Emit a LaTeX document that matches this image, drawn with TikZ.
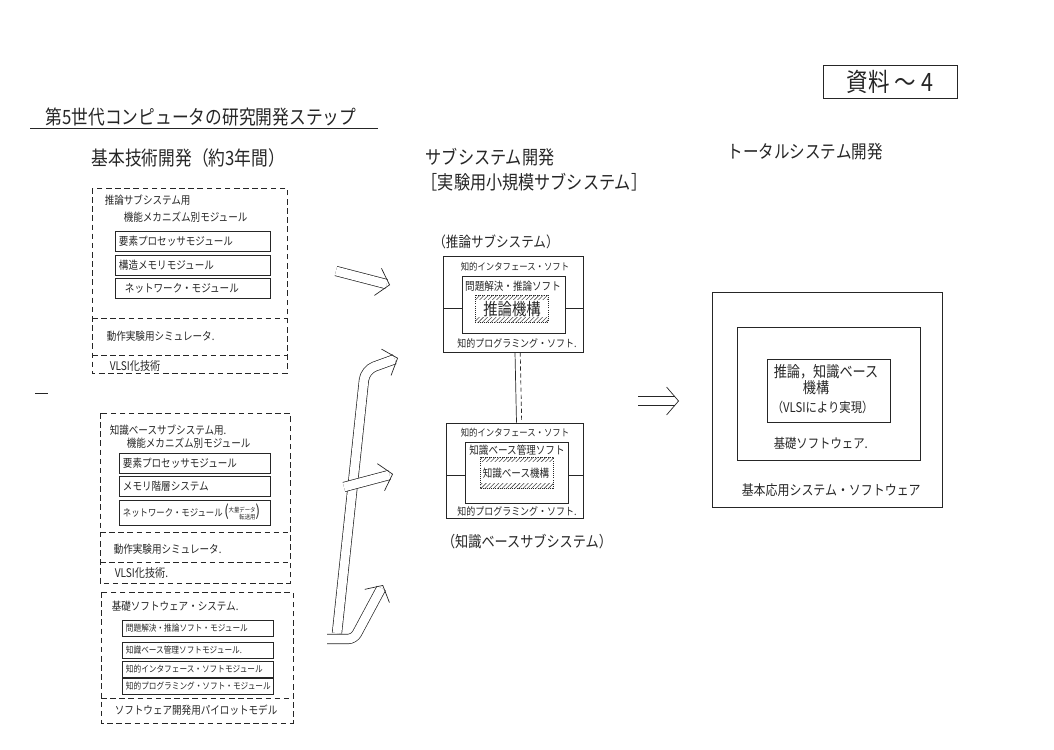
\documentclass[tikz,border=0pt]{standalone}
\usepackage{fontspec}
\setmainfont{Noto Sans CJK JP}[FakeStretch=0.85]
\usetikzlibrary{arrows.meta,patterns,calc}
\newcommand{\fsz}[1]{\fontsize{#1}{#1}\selectfont}

\begin{document}
\begin{tikzpicture}[x=0.025cm, y=-0.025cm, line width=0.5pt, color=black!85,
  every node/.style={inner sep=1pt},
  dashbox/.style={dash pattern=on 4pt off 2.5pt},
  modbox/.style={draw, align=left, minimum height=0.5cm, inner xsep=0.1cm, inner ysep=0pt},
  dbl/.style={double, double distance=0.22cm, shorten >=0.09cm},
  chev/.style={draw=white, -{Straight Barb[length=0.3cm, width=0.7cm, color=black!85]}},
  hatch/.style={pattern=north east lines, pattern color=black!70}]
\useasboundingbox (0,0) rectangle (1054,750);
\node[anchor=west, font=\fsz{14pt}] (title) at (44,117) {第5世代コンピュータの研究開発ステップ};
\draw (30,128) -- (378,128);
\node[anchor=west, font=\fsz{14pt}] (basic) at (90,158) {基本技術開発（約3年間）};
\draw (35,393) -- (48,393);
%inference modules
\draw[dashbox] (92,188) rectangle (287,373);
\draw[dashbox] (92,318) -- (287,318);
\draw[dashbox] (92,355) -- (287,355);
\node[anchor=west, font=\fsz{8pt}] (inf1) at (103,200) {推論サブシステム用};
\node[anchor=west, font=\fsz{8pt}] (mech1) at (122,217) {機能メカニズム別モジュール};
\node[modbox, text width=3.675cm, font=\fsz{8pt}] (ep1) at (192.5,241) {要素プロセッサモジュール};
\node[modbox, text width=3.675cm, font=\fsz{8pt}] (sm1) at (192.5,265) {構造メモリモジュール};
\node[modbox, text width=3.675cm, font=\fsz{8pt}] (nw1) at (192.5,288) {\hspace{0.15cm}ネットワーク・モジュール};
\node[anchor=west, font=\fsz{8pt}] (sim1) at (105,336) {動作実験用シミュレータ.};
\node[anchor=west, font=\fsz{8.5pt}] (vlsi1) at (108,366) {VLSI化技術};
%knowledge base modules
\draw[dashbox] (100,413) rectangle (290,583);
\draw[dashbox] (100,532) -- (290,532);
\draw[dashbox] (100,562) -- (290,562);
\node[anchor=west, font=\fsz{8pt}] (kb2) at (108,430) {知識ベースサブシステム用.};
\node[anchor=west, font=\fsz{8pt}] (mech2) at (125,443) {機能メカニズム別モジュール};
\node[modbox, text width=3.575cm, font=\fsz{8pt}] (ep2) at (194.5,463) {要素プロセッサモジュール};
\node[modbox, text width=3.575cm, font=\fsz{8pt}] (mh2) at (194.5,486.5) {メモリ階層システム};
\node[modbox, text width=3.575cm, minimum height=0.625cm, font=\fsz{7pt}] (nw2) at (194.5,512.5)
  {ネットワーク・モジュール\,{\fsz{11pt}(}{\fsz{4.5pt}\begin{tabular}{@{}r@{}}大量データ\\転送用\end{tabular}}{\fsz{11pt})}};
\node[anchor=west, font=\fsz{8pt}] (sim2) at (112,549) {動作実験用シミュレータ.};
\node[anchor=west, font=\fsz{8.5pt}] (vlsi2) at (113,573) {VLSI化技術.};
%basic software
\draw[dashbox] (101,592) rectangle (293,723);
\draw[dashbox] (101,698) -- (293,698);
\node[anchor=west, font=\fsz{8pt}] (bss3) at (110,606) {基礎ソフトウェア・システム.};
\node[modbox, text width=3.575cm, minimum height=0.4cm, font=\fsz{6.4pt}] (ps3) at (197.5,628.5) {問題解決・推論ソフト・モジュール};
\node[modbox, text width=3.575cm, minimum height=0.4cm, font=\fsz{6.4pt}] (km3) at (197.5,650) {知識ベース管理ソフトモジュール.};
\node[modbox, text width=3.575cm, minimum height=0.4cm, font=\fsz{6.4pt}] (ii3) at (197.5,669) {知的インタフェース・ソフトモジュール};
\node[modbox, text width=3.575cm, minimum height=0.4cm, font=\fsz{6.4pt}] (ip3) at (197.5,686.5) {知的プログラミング・ソフト・モジュール};
\node[anchor=west, font=\fsz{8pt}] (pilot3) at (113,710) {ソフトウェア開発用パイロットモデル};
%subsystems
\node[anchor=west, font=\fsz{13.5pt}] (subdev) at (424,157) {サブシステム開発};
\node[anchor=west, font=\fsz{13.5pt}] (subexp) at (420,182) {［実験用小規模サブシステム］};
\node[font=\fsz{10.5pt}] (infcap) at (496,242) {（推論サブシステム）};
\node[draw, minimum width=3.5cm, minimum height=2.4cm] (infbox) at (513,304) {};
\draw (462,276) rectangle (565,333);
\fill[hatch] (475,295) rectangle (548,299.5);
\fill[hatch] (475,317.5) rectangle (548,322);
\draw[densely dotted] (475,295) rectangle (548,322);
\draw (443,308) -- (462,308);
\draw (565,308) -- (583,308);
\node[font=\fsz{7pt}] (ii) at (515,267) {知的インタフェース・ソフト};
\node[font=\fsz{8pt}] (psr) at (513,286) {問題解決・推論ソフト};
\node[font=\fsz{12pt}] (infmech) at (512,309) {推論機構};
\node[font=\fsz{7.5pt}] (ipr) at (517,343) {知的プログラミング・ソフト.};
\node[draw, minimum width=3.425cm, minimum height=2.375cm] (kbbox) at (514.5,470.5) {};
\draw (465,442) rectangle (568,503);
\fill[hatch] (480,457) rectangle (553,461.5);
\fill[hatch] (480,483.5) rectangle (553,488);
\draw[densely dotted] (480,457) rectangle (553,488);
\draw (446,475) -- (465,475);
\draw (568,475) -- (583,475);
\node[font=\fsz{7pt}] (kii) at (515,433) {知的インタフェース・ソフト};
\node[font=\fsz{8pt}] (kbm) at (517,450.5) {知識ベース管理ソフト};
\node[font=\fsz{8pt}] (kbmech) at (516,473) {知識ベース機構};
\node[font=\fsz{7.5pt}] (kip) at (517,511) {知的プログラミング・ソフト.};
\node[font=\fsz{11pt}] (kbcap) at (527,542) {（知識ベースサブシステム）};
\draw ([xshift=0.05cm]infbox.south) -- ([xshift=0.05cm]kbbox.north);
\draw[densely dashed] ([xshift=0.18cm]infbox.south) -- ([xshift=0.18cm]kbbox.north);
%total system
\node[anchor=west, font=\fsz{13pt}] (totdev) at (726,152) {トータルシステム開発};
\node[draw, minimum width=3.35cm, minimum height=0.825cm, font=\fsz{18pt}] (doc4) at (890,81.5) {資料 ～ 4};
\draw (712,292) rectangle (942,507);
\draw (737,327) rectangle (920,460);
\draw (767,359) rectangle (890,422);
\node[anchor=west, font=\fsz{11pt}] (ikb) at (772,372) {推論，知識ベース};
\node[font=\fsz{11pt}] (mech) at (816,388) {機構};
\node[anchor=west, font=\fsz{9.5pt}] (vlsi) at (770,407) {（VLSIにより実現）};
\node[anchor=west, font=\fsz{9.5pt}] (bsw) at (772,443) {基礎ソフトウェア.};
\node[anchor=west, font=\fsz{10pt}] (app) at (740,490) {基本応用システム・ソフトウェア};
%arrows
\coordinate (a1s) at (336,271);
\coordinate (a1e) at (390,285);
\draw[dbl] (a1s) -- (a1e);
\draw[chev] ($(a1e)!0.2cm!(a1s)$) -- (a1e);
\coordinate (a2s) at (337,633);
\coordinate (a2m) at (365,370);
\coordinate (a2e) at (398,358);
\draw[dbl, rounded corners=0.25cm] (a2s) -- (a2m) -- (a2e);
\draw[chev] ($(a2e)!0.2cm!(a2m)$) -- (a2e);
\coordinate (a3s) at (344,487);
\coordinate (a3e) at (393,474);
\draw[dbl] (a3s) -- (a3e);
\draw[chev] ($(a3e)!0.2cm!(a3s)$) -- (a3e);
\coordinate (a4s) at (327,639);
\coordinate (a4m) at (354,639);
\coordinate (a4e) at (383,585);
\draw[dbl, rounded corners=0.15cm] (a4s) -- (a4m) -- (a4e);
\draw[chev] ($(a4e)!0.2cm!(a4m)$) -- (a4e);
\coordinate (a5s) at (638,401);
\coordinate (a5e) at (679,401);
\draw[dbl] (a5s) -- (a5e);
\draw[chev] ($(a5e)!0.2cm!(a5s)$) -- (a5e);
\end{tikzpicture}
\end{document}
